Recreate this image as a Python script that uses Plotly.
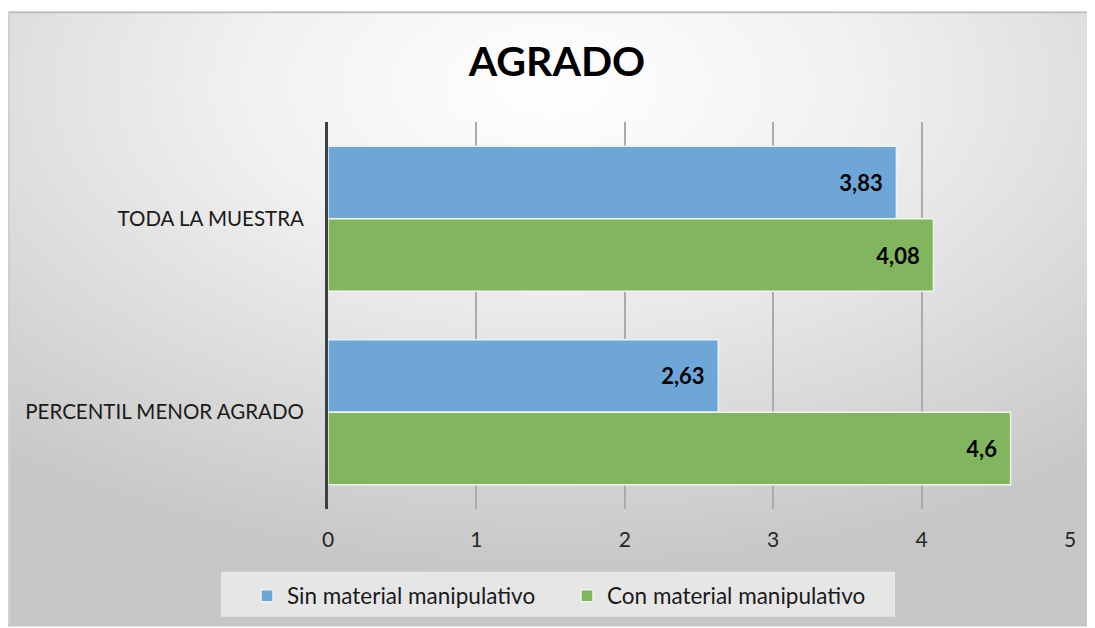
import base64
import plotly.graph_objects as go

categorias = ["TODA LA MUESTRA", "PERCENTIL MENOR AGRADO"]
sin_material = [3.83, 2.63]
con_material = [4.08, 4.6]
x_ticks = [0, 1, 2, 3, 4, 5]

# la página pone 8px de margen al body: trabajo en px de página y resto O
O = 8
W, H = 1095 - O, 628 - O
L, R, T, B = 328 - O, W - (1070 - O), 122 - O, H - (510 - O)
pw, ph = W - L - R, H - T - B


def px_x(p):
    return (p - O - L) / pw


def px_y(p):
    return (H - B - (p - O)) / ph


# fondo con degradado radial (como el de Excel)
svg = """<svg xmlns='http://www.w3.org/2000/svg' width='1087' height='617' viewBox='0 0 1087 617' preserveAspectRatio='none'>
<defs><radialGradient id='g' cx='0.5' cy='0.12' r='0.8' gradientUnits='objectBoundingBox'>
<stop offset='0' stop-color='#ffffff'/><stop offset='0.35' stop-color='#f1f1f1'/><stop offset='1' stop-color='#c6c6c6'/>
</radialGradient></defs>
<rect x='0' y='0' width='1087' height='617' fill='url(#g)'/>
<line x1='0' y1='1' x2='1087' y2='1' stroke='#bdbdbd' stroke-width='2'/>
<line x1='1' y1='0' x2='1' y2='617' stroke='#d0d0d0' stroke-width='2'/>
</svg>"""
src = "data:image/svg+xml;base64," + base64.b64encode(svg.encode()).decode()

etiqueta = dict(family="Lato", size=22, color="black", weight="bold")

fig = go.Figure()
fig.add_trace(go.Bar(
    name="Sin material manipulativo", y=categorias, x=sin_material, orientation="h",
    marker=dict(color="#6fa6d8", line=dict(color="#e8f0f8", width=1.5)),
    texttemplate="%{x}\u00a0\u00a0", textposition="inside", insidetextanchor="end",
    insidetextfont=etiqueta,
))
fig.add_trace(go.Bar(
    name="Con material manipulativo", y=categorias, x=con_material, orientation="h",
    marker=dict(color="#82b65e", line=dict(color="#eef5ea", width=1.5)),
    texttemplate="%{x}\u00a0\u00a0", textposition="inside", insidetextanchor="end",
    insidetextfont=etiqueta,
))

fig.update_layout(
    width=W, height=H,
    margin=dict(l=L, r=R, t=T, b=B),
    paper_bgcolor="white", plot_bgcolor="rgba(0,0,0,0)",
    separators=",.",
    font=dict(family="Lato", size=20, color="#222222"),
    barmode="group", bargap=0.25, bargroupgap=0,
    title=dict(text="<b>AGRADO</b>", x=(557 - O) / W, y=1 - (62 - O) / H, xref="container", yref="container",
               xanchor="center", yanchor="middle", font=dict(family="Lato", size=41, color="black")),
    xaxis=dict(range=[0, 5], tickvals=x_ticks, showgrid=True, gridcolor="#ababab", gridwidth=1.5,
               zeroline=False, ticklabelstandoff=16, tickfont=dict(size=21, color="#262626"), fixedrange=True),
    yaxis=dict(autorange="reversed", showline=True, linecolor="#404040", linewidth=3,
               ticklabelstandoff=17, tickfont=dict(size=20.5, color="#1a1a1a"), showgrid=False),
    legend=dict(orientation="h", x=px_x(247), xanchor="left", y=px_y(596), yanchor="middle",
                bgcolor="rgba(0,0,0,0)", font=dict(size=22.5, color="#1a1a1a"), traceorder="normal",
                itemwidth=30, entrywidth=275),
    showlegend=True,
    images=[dict(source=src, xref="paper", yref="paper", x=px_x(8), y=px_y(11),
                 sizex=W / pw, sizey=(H - 3) / ph, sizing="stretch", layer="below",
                 xanchor="left", yanchor="top")],
    shapes=[dict(type="rect", xref="paper", yref="paper", x0=px_x(221), x1=px_x(895),
                 y0=px_y(618), y1=px_y(573), fillcolor="#e6e6e6", line=dict(width=0), layer="below")],
)

fig.write_html("out.html")
